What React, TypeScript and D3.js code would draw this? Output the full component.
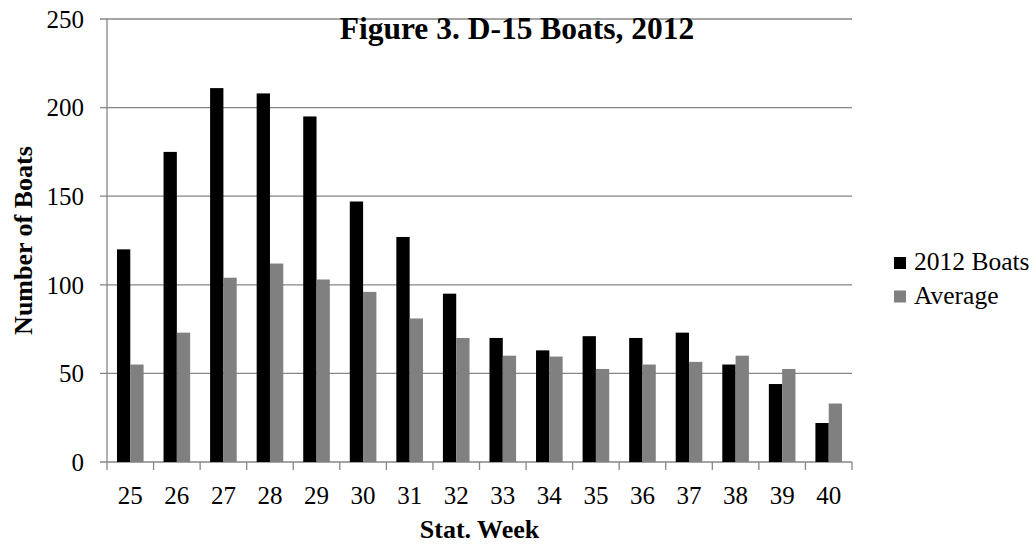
import React from "react";
import * as d3 from "d3";

const weeks = ["25", "26", "27", "28", "29", "30", "31", "32", "33", "34", "35", "36", "37", "38", "39", "40"];
const boats2012 = [120, 175, 211, 208, 195, 147, 127, 95, 70, 63, 71, 70, 73, 55, 44, 22];
const average = [55, 73, 104, 112, 103, 96, 81, 70, 60, 59.5, 52.5, 55, 56.5, 60, 52.5, 33];
const yTicks = [0, 50, 100, 150, 200, 250];
const seriesNames = ["2012 Boats", "Average"];
const seriesColors = ["#000000", "#808080"];

const W = 1036;
const H = 547;
const left = 107;
const right = 852;
const top = 19;
const bottom = 462;
const gridColor = "#868686";
const font = "Liberation Serif";

export default function App() {
  const x0 = d3.scaleBand<string>().domain(weeks).range([left, right]).padding(0);
  const bw = x0.bandwidth();
  const gapHalf = (bw * 0.75) / 3.5;
  const x1 = d3.scaleBand<string>().domain(seriesNames).range([gapHalf, bw - gapHalf]).padding(0);
  const y = d3.scaleLinear().domain([0, 250]).range([bottom, top]);
  const seriesData = [boats2012, average];

  return (
    <svg width={W} height={H} style={{ position: "absolute", left: 0, top: 0, background: "#fff" }}>
      <rect x={0} y={0} width={W} height={H} fill="#fff" />
      {yTicks.map((t) => (
        <g key={t}>
          <line x1={left - 7} x2={right} y1={y(t)} y2={y(t)} stroke={gridColor} strokeWidth={1.3} />
          <text x={84} y={y(t)} dy="0.35em" textAnchor="end" fontSize={25} fontFamily={font} fill="#000">
            {t}
          </text>
        </g>
      ))}
      <line x1={left} x2={left} y1={top} y2={bottom} stroke={gridColor} strokeWidth={1.3} />
      {seriesData.map((vals, si) =>
        vals.map((v, i) => (
          <rect
            key={`${si}-${i}`}
            x={(x0(weeks[i]) as number) + (x1(seriesNames[si]) as number)}
            y={y(v)}
            width={x1.bandwidth()}
            height={y(0) - y(v)}
            fill={seriesColors[si]}
          />
        ))
      )}
      {[...weeks, "end"].map((w, i) => {
        const xx = left + i * bw;
        return <line key={w} x1={xx} x2={xx} y1={bottom} y2={bottom + 8} stroke={gridColor} strokeWidth={1.3} />;
      })}
      {weeks.map((w) => (
        <text key={w} x={(x0(w) as number) + bw / 2} y={504} textAnchor="middle" fontSize={25} fontFamily={font} fill="#000">
          {w}
        </text>
      ))}
      <text x={(left + right) / 2} y={538} textAnchor="middle" fontSize={26} fontWeight="bold" fontFamily={font} fill="#000">
        Stat. Week
      </text>
      <text
        transform={`translate(32, ${(top + bottom) / 2}) rotate(-90)`}
        textAnchor="middle"
        fontSize={26}
        fontWeight="bold"
        fontFamily={font}
        fill="#000"
      >
        Number of Boats
      </text>
      <text x={517} y={39} textAnchor="middle" fontSize={31.5} fontWeight="bold" fontFamily={font} fill="#000">
        Figure 3. D-15 Boats, 2012
      </text>
      {seriesNames.map((n, i) => (
        <g key={n}>
          <rect x={894} y={257 + i * 33.5} width={12} height={12} fill={seriesColors[i]} />
          <text x={914} y={270 + i * 33.5} fontSize={25.5} fontFamily={font} fill="#000">
            {n}
          </text>
        </g>
      ))}
    </svg>
  );
}
